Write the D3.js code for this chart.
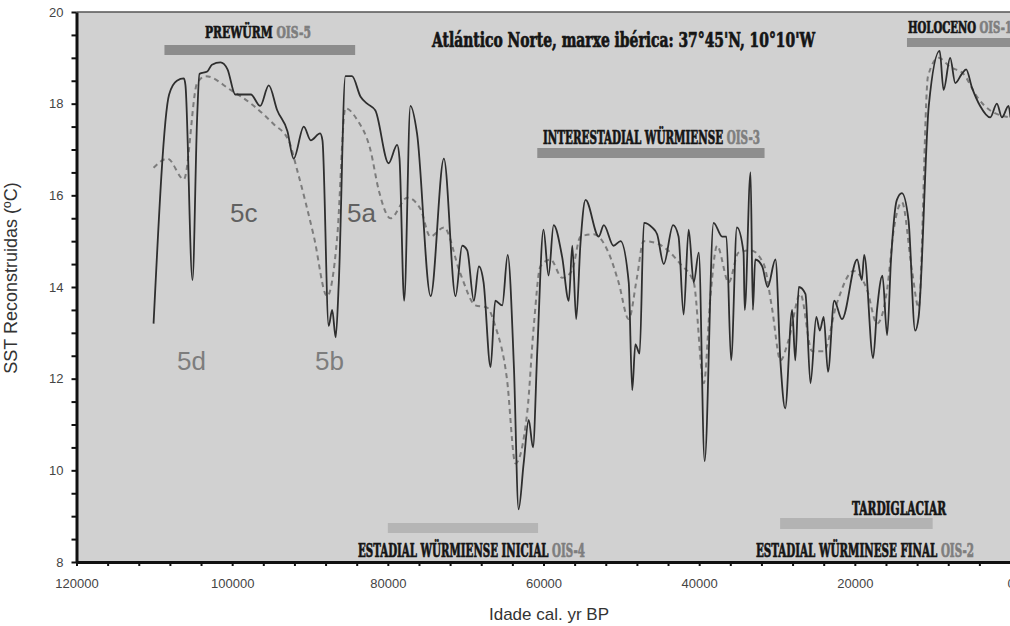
<!DOCTYPE html>
<html>
<head>
<meta charset="utf-8">
<script src="https://cdn.jsdelivr.net/npm/d3@7"></script>
<style>
body{margin:0;background:#fff;}
svg{display:block;}
.tick text{font-family:"Liberation Sans",Arial,sans-serif;font-size:13px;fill:#444;}
.stage{font-family:"DejaVu Serif Condensed","DejaVu Serif",serif;font-weight:bold;font-stretch:condensed;stroke-width:0.7px;}
</style>
</head>
<body>
<div id="chart"></div>
<script>
// SST record, years BP and temperature (ºC)
const sstYears = [
  110100,108100,107100,106200,106000,105100,104500,104200,103200,102600,
  101500,100600,99600,97600,96400,95300,94200,92900,92100,90800,
  89900,88700,88400,87600,87150,86700,86300,85450,84600,83500,
  82650,81600,79900,78800,78500,77900,77100,76250,74500,72800,
  71300,70450,69800,68950,68300,67700,66800,66200,65300,64600,
  63800,63200,62550,61900,61350,60800,60000,59350,58700,57600,
  56750,56300,55800,55250,54600,52900,52250,51000,50100,49050,
  48600,48200,47650,47100,46050,45400,44550,43350,42650,42000,
  41350,40700,40050,39300,38150,37050,36500,35900,35150,34300,
  34150,33400,33100,32800,31900,31200,30200,29550,28950,28050,
  27650,27200,26350,25700,24950,24500,24000,23450,22650,21650,
  19700,19100,18800,17650,17150,16450,15850,15350,14600,13950,
  13100,12250,11800,10500,9100,8600,7750,7100,6250,5700,
  4950,3900,2600,1750,1100,250,0
];
const sstTemps = [
  13.2,18.2,18.5,18.55,18.4,14.15,17.7,18.65,18.7,18.85,
  18.9,18.75,18.2,18.2,17.95,18.4,17.85,17.4,16.8,17.5,
  17.2,17.35,17.2,13.15,13.5,12.9,14.1,18.6,18.6,18.15,
  18.0,17.85,16.7,17.1,16.8,13.7,17.95,17.35,13.8,16.8,
  13.8,14.9,14.8,13.7,14.45,14.1,12.25,13.7,13.6,14.7,
  12.25,9.15,10.15,11.1,10.5,12.6,15.25,14.25,15.35,14.65,
  13.7,14.9,13.3,14.95,15.9,15.1,15.35,14.9,15.0,14.1,
  11.75,12.75,12.55,15.4,15.3,15.15,14.5,15.35,15.1,13.4,
  15.25,14.1,14.75,10.2,15.4,15.1,15.1,12.4,15.3,14.75,
  13.5,16.5,13.5,14.6,14.45,14.0,14.6,12.35,11.35,13.5,
  12.4,14.0,13.85,11.9,13.35,13.05,13.35,12.15,13.7,13.3,
  14.6,14.15,14.7,12.45,13.5,14.25,12.95,14.6,15.9,16.05,
  15.45,13.05,13.35,17.95,19.15,18.3,19.0,18.45,18.65,18.75,
  18.35,17.95,17.7,18.0,17.7,17.95,17.7
];

// smoothed curve (dashed)
const smoothYears = [
  110100,108300,106200,104500,103400,100200,97200,94650,92750,91650,
  89500,87800,86500,85450,83950,82250,81150,79650,77500,75800,
  74550,72800,70700,68750,67250,66200,64700,63600,62100,61250,
  60400,59100,57600,56350,55250,53550,51650,50350,49050,48000,
  47150,45400,42400,40700,39400,38550,37700,36200,34950,33400,
  31700,30650,29550,28500,27000,25500,24000,22300,20150,18450,
  17150,15850,15000,13950,12650,11800,10600,9250,7750,6050,
  4300,2600,0
];
const smoothTemps = [
  16.6,16.8,16.35,18.45,18.6,18.3,17.95,17.55,17.2,16.55,
  15.1,13.8,15.1,17.9,17.65,17.0,16.1,15.5,15.95,15.7,
  15.1,15.3,14.3,13.6,13.55,13.15,12.0,10.15,11.25,13.15,
  14.45,14.6,14.2,14.35,15.1,15.15,14.75,14.1,13.3,14.2,
  15.0,14.95,14.5,14.1,11.9,13.8,14.9,14.1,14.75,14.8,
  14.5,13.55,12.4,12.85,13.85,12.6,12.6,13.65,14.35,13.95,
  13.2,13.95,15.25,15.85,14.35,13.55,18.6,19.0,18.8,18.65,
  18.15,17.85,17.7
];

// climatic stages: bars (years BP)
const bandNames = ['PREWÜRM','INTERESTADIAL WÜRMIENSE','HOLOCENO','ESTADIAL WÜRMIENSE INICIAL','TARDIGLACIAR'];
const bandStart = [108700, 60800, 13300, 80000, 29600];
const bandEnd = [84200, 31600, 0, 60700, 10000];

// stage labels
const stageNames = ['PREWÜRM','INTERESTADIAL WÜRMIENSE','HOLOCENO','TARDIGLACIAR','ESTADIAL WÜRMIENSE INICIAL','ESTADIAL WÜRMINESE FINAL'];
const stageOIS = ['OIS-5','OIS-3','OIS-1','','OIS-4','OIS-2'];
const substages = ['5d','5c','5b','5a'];

const title = 'Atlántico Norte, marxe ibérica: 37°45\'N, 10°10\'W';
const xTicks = d3.range(0, 120001, 4000);
const yTicks = d3.range(8, 20.001, 0.5);

//Set up DOM scaffolding
const width = 1010, height = 626;
const svg = d3.select('#chart').append('svg')
  .attr('width', width)
  .attr('height', height);

const x = d3.scaleLinear().domain([120000, 0]).range([76.5, 1010.5]);
const y = d3.scaleLinear().domain([8, 20]).range([562, 12]);

//plot background + top frame
svg.append('rect')
  .attr('x', x(120000)).attr('y', y(20))
  .attr('width', x(0) - x(120000)).attr('height', y(8) - y(20))
  .style('fill', '#d1d1d1');
svg.append('line')
  .attr('x1', x(120000)).attr('x2', x(0))
  .attr('y1', y(20)).attr('y2', y(20))
  .style('stroke', '#555').style('stroke-width', 1.5);

//bars
const bandY = [45, 148, 38, 523, 518];
const bandH = [10, 10, 9, 10, 11];
const bandFill = ['#8c8c8c', '#8e8e8e', '#8f8f8f', '#b5b5b5', '#b3b3b3'];
svg.selectAll('.band')
  .data(bandNames)
  .enter().append('rect')
  .attr('class', 'band')
  .attr('x', (d, i) => x(bandStart[i]))
  .attr('width', (d, i) => x(bandEnd[i]) - x(bandStart[i]))
  .attr('y', (d, i) => bandY[i])
  .attr('height', (d, i) => bandH[i])
  .style('fill', (d, i) => bandFill[i]);

//curves
const sst = sstYears.map((d, i) => ({year: d, t: sstTemps[i]}));
const smooth = smoothYears.map((d, i) => ({year: d, t: smoothTemps[i]}));
const line = d3.line()
  .x(d => x(d.year))
  .y(d => y(d.t))
  .curve(d3.curveMonotoneX);

svg.append('path')
  .datum(smooth)
  .attr('d', line)
  .style('fill', 'none')
  .style('stroke', '#7c7c7c')
  .style('stroke-width', 2)
  .style('stroke-dasharray', '5,4');

svg.append('path')
  .datum(sst)
  .attr('d', line)
  .style('fill', 'none')
  .style('stroke', '#2e2e2e')
  .style('stroke-width', 1.8)
  .style('stroke-linejoin', 'round');

//substage labels
const subPos = [[177, 370, '#7d7d7d'], [230, 222, '#616161'], [315, 370, '#7d7d7d'], [347, 222, '#616161']];
svg.selectAll('.sub')
  .data(substages)
  .enter().append('text')
  .attr('class', 'sub')
  .attr('x', (d, i) => subPos[i][0])
  .attr('y', (d, i) => subPos[i][1])
  .style('font-family', '"Liberation Sans", Arial, sans-serif')
  .style('font-size', '26px')
  .style('fill', (d, i) => subPos[i][2])
  .text(d => d);

//stage labels: [x, baseline, width, size]
const stagePos = [
  [205, 38, 106, 17],
  [543, 144, 217, 18],
  [908, 33, 104, 16],
  [852, 515, 94, 18],
  [358, 557, 227, 18],
  [756, 557, 218, 18]
];
const stageText = svg.selectAll('.stage-label')
  .data(stageNames)
  .enter().append('text')
  .attr('class', 'stage stage-label')
  .attr('x', (d, i) => stagePos[i][0])
  .attr('y', (d, i) => stagePos[i][1])
  .attr('textLength', (d, i) => stagePos[i][2])
  .attr('lengthAdjust', 'spacingAndGlyphs')
  .style('font-size', (d, i) => stagePos[i][3] + 'px');
stageText.append('tspan')
  .style('fill', '#151515')
  .style('stroke', '#151515')
  .text((d, i) => stageOIS[i] ? d + ' ' : d);
stageText.append('tspan')
  .style('fill', '#7e7e7e')
  .style('stroke', '#7e7e7e')
  .text((d, i) => stageOIS[i]);

//title
svg.append('text')
  .attr('class', 'stage')
  .attr('x', 432).attr('y', 47)
  .attr('textLength', 383)
  .attr('lengthAdjust', 'spacingAndGlyphs')
  .style('font-size', '20px')
  .style('fill', '#151515')
  .style('stroke', '#151515')
  .text(title);

//Axis
const axisY = d3.axisLeft(y)
  .tickValues(yTicks)
  .tickSize(5)
  .tickSizeOuter(0)
  .tickPadding(8)
  .tickFormat(d => d % 2 === 0 ? d : '');
const axisX = d3.axisBottom(x)
  .tickValues(xTicks)
  .tickSize(4)
  .tickSizeOuter(0)
  .tickPadding(13)
  .tickFormat(d => d % 20000 === 0 ? String(d) : '');

const axisYNode = svg.append('g')
  .attr('class', 'axis-y')
  .attr('transform', `translate(${x(120000)},0)`)
  .call(axisY);
const axisXNode = svg.append('g')
  .attr('class', 'axis-x')
  .attr('transform', `translate(0,${y(8)})`)
  .call(axisX);

[axisYNode, axisXNode].forEach(g => {
  g.select('.domain').style('stroke', '#111').style('stroke-width', 3);
  g.selectAll('.tick line').style('stroke', '#111').style('stroke-width', 2);
});

//axis titles
svg.append('text')
  .attr('transform', 'translate(17,278) rotate(-90)')
  .attr('text-anchor', 'middle')
  .style('font-family', '"Liberation Sans", Arial, sans-serif')
  .style('font-size', '18px')
  .style('fill', '#333')
  .text('SST Reconstruidas (ºC)');

svg.append('text')
  .attr('x', 549).attr('y', 620)
  .attr('text-anchor', 'middle')
  .style('font-family', '"Liberation Sans", Arial, sans-serif')
  .style('font-size', '17px')
  .style('fill', '#333')
  .text('Idade cal. yr BP');
</script>
</body>
</html>
